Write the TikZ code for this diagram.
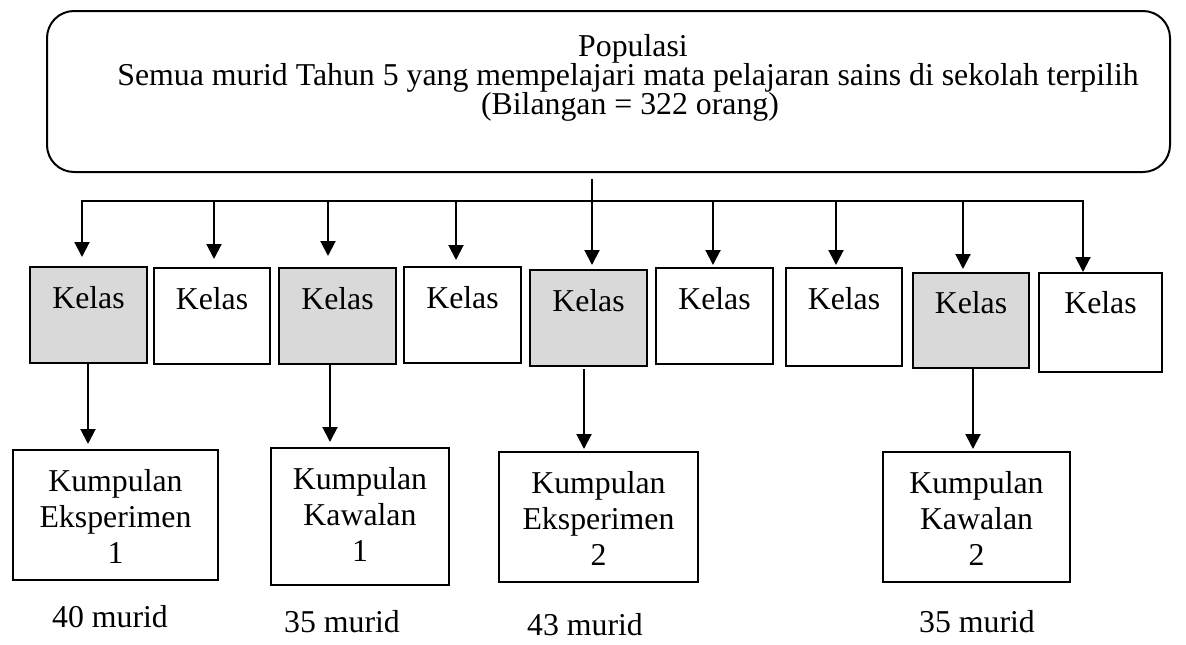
\documentclass[tikz,border=0pt]{standalone}
\usepackage{fontspec}
\setmainfont{Liberation Serif}
\usetikzlibrary{arrows.meta}
\definecolor{shade}{HTML}{D9D9D9}
\begin{document}
\begin{tikzpicture}[x=1pt,y=-1pt,
  font=\fontsize{31.8}{36}\selectfont,
  line width=2pt,
  arr/.style={-{Triangle[width=15pt,length=15pt]}},
  kelas/.style={draw, rectangle, inner xsep=0pt, inner ysep=0pt, minimum width=117pt, text height=41pt, text depth=55pt, anchor=north},
  grp/.style={draw, rectangle, anchor=north, inner sep=0pt},
  txt/.style={inner sep=0pt, anchor=base},
  gtxt/.style={inner sep=0pt, anchor=north, align=center}]
\useasboundingbox (0,0) rectangle (1186,645);

% population box
\node[draw, rounded corners=27pt, minimum width=1123pt, minimum height=161pt, inner sep=0pt] (pop) at (608.5,91.5) {};
\node[txt] (t1) at (633,56) {Populasi};
\node[txt] (t2) at (628,85) {Semua murid Tahun 5 yang mempelajari mata pelajaran sains di sekolah terpilih};
\node[txt] (t3) at (630,114) {(Bilangan = 322 orang)};

% class boxes
\node[kelas, fill=shade] (k1) at (88.5,266) {Kelas};
\node[kelas, minimum width=116pt] (k2) at (212,267) {Kelas};
\node[kelas, fill=shade] (k3) at (337.5,267) {Kelas};
\node[kelas] (k4) at (462.5,266) {Kelas};
\node[kelas, fill=shade] (k5) at (588.5,269) {Kelas};
\node[kelas] (k6) at (714.5,267) {Kelas};
\node[kelas, minimum width=116pt, text depth=57pt] (k7) at (844,267) {Kelas};
\node[kelas, fill=shade, minimum width=116pt, text height=40pt, text depth=55pt] (k8) at (971,272) {Kelas};
\node[kelas, minimum width=123pt, text height=40pt, text depth=59pt] (k9) at (1100.5,272) {Kelas};

% bus
\coordinate (b1) at (82,201);
\coordinate (b2) at (214,201);
\coordinate (b3) at (328,201);
\coordinate (b4) at (456,201);
\coordinate (b5) at (592,201);
\coordinate (b6) at (713,201);
\coordinate (b7) at (836,201);
\coordinate (b8) at (963,201);
\coordinate (b9) at (1083,201);
\draw[line cap=rect] (b1) -- (b9);
\draw[arr, shorten >=9pt] (b1) -- (b1 |- k1.north);
\draw[arr, shorten >=8pt] (b2) -- (b2 |- k2.north);
\draw[arr, shorten >=11pt] (b3) -- (b3 |- k3.north);
\draw[arr, shorten >=6pt] (b4) -- (b4 |- k4.north);
\draw[arr, shorten <=6pt, shorten >=4pt] (b5 |- pop.south) -- (b5 |- k5.north);
\draw[arr, shorten >=2pt] (b6) -- (b6 |- k6.north);
\draw[arr, shorten >=2pt] (b7) -- (b7 |- k7.north);
\draw[arr, shorten >=3pt] (b8) -- (b8 |- k8.north);
\draw[arr] (b9) -- (b9 |- k9.north);

% group boxes
\node[grp, minimum width=205pt, minimum height=130pt] (ke1) at (115.5,449) {};
\node[gtxt] (ke1t) at (115.5,468) {Kumpulan\\Eksperimen\\1};
\node[grp, minimum width=178pt, minimum height=137pt] (kk1) at (360,447) {};
\node[gtxt] (kk1t) at (360,466) {Kumpulan\\Kawalan\\1};
\node[grp, minimum width=199pt, minimum height=130pt] (ke2) at (598.5,451) {};
\node[gtxt] (ke2t) at (598.5,470) {Kumpulan\\Eksperimen\\2};
\node[grp, minimum width=187pt, minimum height=130pt] (kk2) at (976.5,451) {};
\node[gtxt] (kk2t) at (976.5,470) {Kumpulan\\Kawalan\\2};

% down arrows
\coordinate (d1) at (88,0);
\coordinate (d3) at (330,0);
\coordinate (d5) at (584,0);
\coordinate (d8) at (973,0);
\draw[arr, shorten >=5pt] (d1 |- k1.south) -- (d1 |- ke1.north);
\draw[arr, shorten >=5pt] (d3 |- k3.south) -- (d3 |- kk1.north);
\draw[arr, shorten <=2pt, shorten >=2pt] (d5 |- k5.south) -- (d5 |- ke2.north);
\draw[arr, shorten >=2pt] (d8 |- k8.south) -- (d8 |- kk2.north);

% counts
\node[txt] (m1) at (110,627) {40 murid};
\node[txt] (m2) at (342,632) {35 murid};
\node[txt] (m3) at (585,635) {43 murid};
\node[txt] (m4) at (977,632) {35 murid};
\end{tikzpicture}
\end{document}
